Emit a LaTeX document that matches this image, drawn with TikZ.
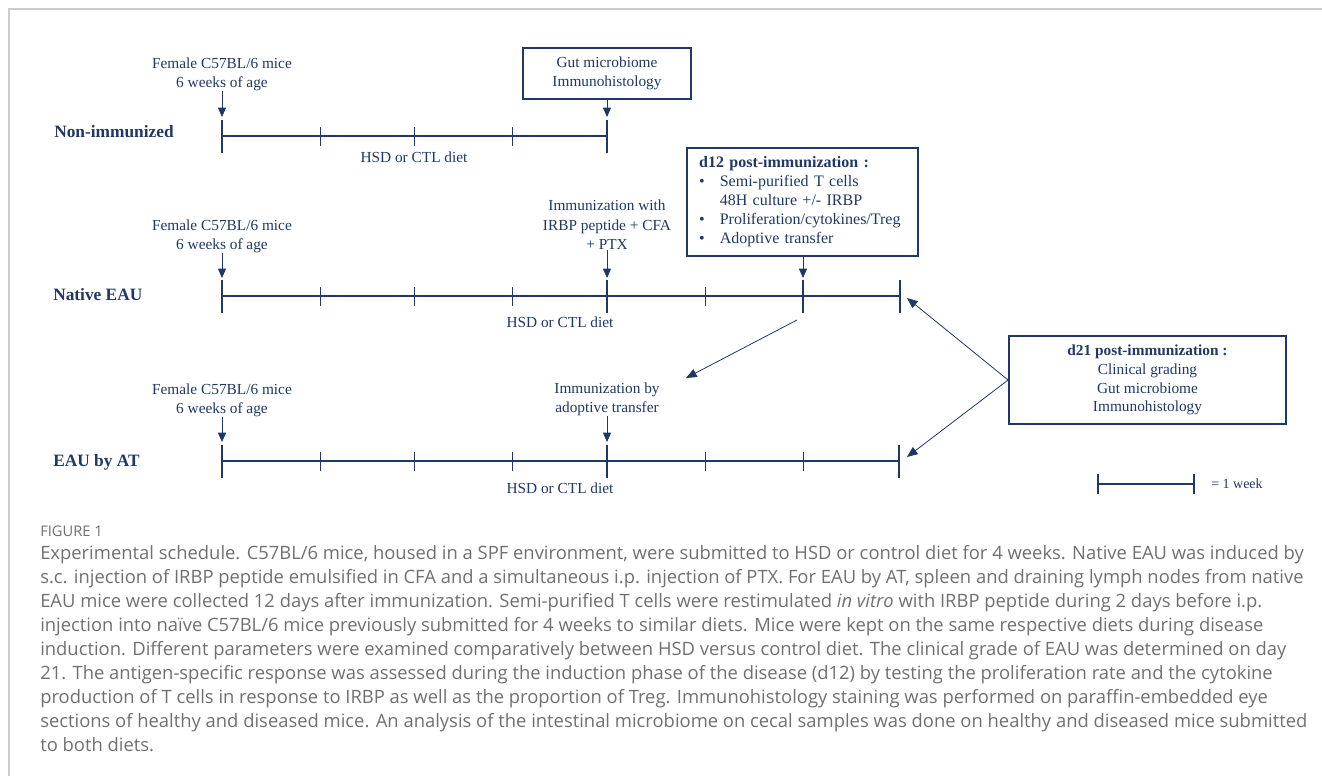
\documentclass[tikz,border=0pt]{standalone}
\usepackage{fontspec}
\setmainfont{Liberation Serif}
\newfontfamily\capfont{Open Sans}
\usetikzlibrary{arrows.meta}
\definecolor{schednavy}{HTML}{1F3864}
\definecolor{capgray}{HTML}{707070}
\definecolor{framegray}{HTML}{CCCCCC}
\newcommand{\bul}{\makebox[15.5pt][l]{\textbullet}}
\tikzset{
  axis/.style={schednavy,line width=1.6pt},
  major/.style={schednavy,line width=2.2pt},
  minor/.style={schednavy,line width=0.7pt},
  evt/.style={text=schednavy,font=\fontsize{11.5}{14.5}\selectfont,align=center,inner sep=0},
  rowlab/.style={text=schednavy,font=\fontsize{13}{15}\selectfont\bfseries,anchor=west,inner sep=0},
  infobox/.style={draw=schednavy,line width=1.1pt,text=schednavy,font=\fontsize{11.5}{14.5}\selectfont,align=center},
  down/.style={schednavy,line width=0.6pt,-{Triangle[length=7pt,width=6pt]}},
  link/.style={schednavy,line width=0.6pt,-{Triangle[length=8pt,width=6.5pt]}},
  captext/.style={text=capgray,font=\capfont\fontsize{13.8}{18}\selectfont,align=left,inner sep=0},
}
\begin{document}
\begin{tikzpicture}[x=0.75pt,y=-0.75pt]
  \useasboundingbox (0,0) rectangle (1322,776);
  % frame round the figure
  \draw[framegray,line width=1.1pt] (9,776) -- (9,9) -- (1322,9);

  % the three schedules: axis, week ticks, diet label
  \draw[axis] (222,136) -- (607,136);
  \foreach \x in {222,607} \draw[major] (\x,120) -- (\x,153);
  \foreach \x in {320,414,512} \draw[minor] (\x,127) -- (\x,146);
  \draw[axis] (222,296) -- (900,296);
  \foreach \x in {222,607,803,900} \draw[major] (\x,280) -- (\x,313);
  \foreach \x in {320,414,512,705} \draw[minor] (\x,287) -- (\x,306);
  \draw[axis] (222,461) -- (899,461);
  \foreach \x in {222,607,899} \draw[major] (\x,445) -- (\x,478);
  \foreach \x in {320,414,512,705,803} \draw[minor] (\x,452) -- (\x,471);

  \node[rowlab] (row1) at (54,132) {Non-immunized};
  \node[rowlab] (row2) at (53,295) {Native EAU};
  \node[rowlab] (row3) at (53,462) {EAU by AT};
  \node[evt] (hsd1) at (414,157) {HSD or CTL diet};
  \node[evt] (hsd2) at (560,322) {HSD or CTL diet};
  \node[evt] (hsd3) at (560,488) {HSD or CTL diet};

  % events above the axes
  \node[evt] (female1) at (222,74) {Female C57BL/6 mice\\6 weeks of age};
  \node[infobox,minimum width=126pt,minimum height=38pt] (gut1) at (607,73.5) {Gut microbiome\\Immunohistology};
  \node[evt] (female2) at (222,236) {Female C57BL/6 mice\\6 weeks of age};
  \node[evt] (immun2) at (607,225) {Immunization with\\IRBP peptide + CFA\\+ PTX};
  \node[infobox,align=left,text width=155pt,inner xsep=9pt,minimum height=81pt,font=\fontsize{12}{14.3}\selectfont] (d12) at (802.5,202)
    {\textbf{d12 post-immunization :}\\
     \bul Semi-purified T cells\\
     \hspace*{15.5pt}48H culture +/- IRBP\\
     \bul Proliferation/cytokines/Treg\\
     \bul Adoptive transfer};
  \node[evt] (female3) at (222,400) {Female C57BL/6 mice\\6 weeks of age};
  \node[evt] (immun3) at (607,399.5) {Immunization by\\adoptive transfer};
  \node[infobox,minimum width=208pt,minimum height=66pt,font=\fontsize{11.5}{14}\selectfont] (d21) at (1147.5,380)
    {\textbf{d21 post-immunization :}\\Clinical grading\\Gut microbiome\\Immunohistology};

  \coordinate (t1a) at (222,117); \coordinate (t1e) at (607,117);
  \coordinate (t2a) at (222,278); \coordinate (t2e) at (607,278); \coordinate (t2g) at (803,278);
  \coordinate (t3a) at (222,442); \coordinate (t3e) at (607,442);
  \coordinate (foot2) at (797,320); \coordinate (head3) at (686,378);
  \coordinate (end2) at (907,298); \coordinate (end3) at (907,457);

  \draw[down] (female1) -- (t1a);
  \draw[down] (gut1.south) -- (t1e);
  \draw[down] (female2) -- (t2a);
  \draw[down] (immun2) -- (t2e);
  \draw[down] (d12.south -| t2g) -- (t2g);
  \draw[down] (female3) -- (t3a);
  \draw[down] (immun3) -- (t3e);
  \draw[link] (foot2) -- (head3);
  \draw[link] (d21.west) -- (end2);
  \draw[link] (d21.west) -- (end3);

  % scale bar
  \draw[axis,line width=1.3pt] (1098,484) -- (1194,484);
  \foreach \x in {1098,1194} \draw[minor,line width=0.9pt] (\x,474) -- (\x,494);
  \node[evt,anchor=west,font=\fontsize{10.5}{12}\selectfont] (week) at (1211,484) {= 1 week};

  % caption
  \node[captext,anchor=base west,font=\capfont\fontsize{11}{12}\selectfont] (fig) at (40,536) {FIGURE 1};
  \node[captext,anchor=north west] (cap) at (40,545)
    {Experimental schedule. C57BL/6 mice, housed in a SPF environment, were submitted to HSD or control diet for 4 weeks. Native EAU was induced by\\
     s.c. injection of IRBP peptide emulsified in CFA and a simultaneous i.p. injection of PTX. For EAU by AT, spleen and draining lymph nodes from native\\
     EAU mice were collected 12 days after immunization. Semi-purified T cells were restimulated \textit{in vitro} with IRBP peptide during 2 days before i.p.\\
     injection into naïve C57BL/6 mice previously submitted for 4 weeks to similar diets. Mice were kept on the same respective diets during disease\\
     induction. Different parameters were examined comparatively between HSD versus control diet. The clinical grade of EAU was determined on day\\
     21. The antigen-specific response was assessed during the induction phase of the disease (d12) by testing the proliferation rate and the cytokine\\
     production of T cells in response to IRBP as well as the proportion of Treg. Immunohistology staining was performed on paraffin-embedded eye\\
     sections of healthy and diseased mice. An analysis of the intestinal microbiome on cecal samples was done on healthy and diseased mice submitted\\
     to both diets.};
\end{tikzpicture}
\end{document}
